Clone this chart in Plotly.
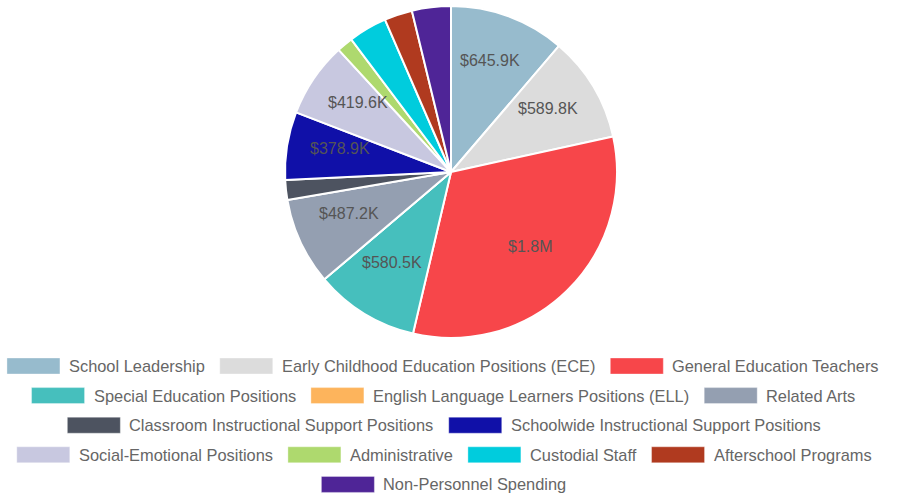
import math
import plotly.graph_objects as go

# ---------------- data ----------------
categories = [
    "School Leadership",
    "Early Childhood Education Positions (ECE)",
    "General Education Teachers",
    "Special Education Positions",
    "English Language Learners Positions (ELL)",
    "Related Arts",
    "Classroom Instructional Support Positions",
    "Schoolwide Instructional Support Positions",
    "Social-Emotional Positions",
    "Administrative",
    "Custodial Staff",
    "Afterschool Programs",
    "Non-Personnel Spending",
]
values = [645900, 589800, 1840000, 580500, 0, 487200, 110000, 378900,
          419600, 90000, 215000, 156000, 217000]
colors = ["#97BBCD", "#DCDCDC", "#F7464A", "#46BFBD", "#FDB45C", "#949FB1",
          "#4D5360", "#1010A8", "#C8C8E0", "#AED96E", "#00CCDD", "#B03A1F",
          "#4F2597"]

W, H = 897, 497
FONT = "Liberation Sans, Arial, sans-serif"


def px(x):
    return x / W


def py(y):
    return 1 - y / H


def fmt(v):
    if v >= 1e6:
        return f"${v/1e6:.1f}M"
    return f"${v/1e3:.1f}K"


total = sum(values)

# pie geometry (pixels)
PX0, PX1, PY0, PY1 = 285, 617, 6, 338
PCX, PCY = (PX0 + PX1) / 2, (PY0 + PY1) / 2
PR = (PX1 - PX0) / 2
LABEL_DY = -6

fig = go.Figure()
fig.add_trace(go.Pie(
    labels=categories,
    values=values,
    textinfo="none",
    marker=dict(colors=colors, line=dict(color="white", width=2)),
    sort=False,
    direction="clockwise",
    rotation=0,
    showlegend=False,
    hoverinfo="label+value",
    domain=dict(x=[px(PX0), px(PX1)], y=[py(PY1), py(PY0)]),
))

# value labels placed along each slice's bisector (derived from the values)
cum = 0.0
for v in values:
    frac = v / total
    mid = (cum + frac / 2) * 2 * math.pi
    cum += frac
    if frac < 0.05:
        continue
    lx = PCX + 0.68 * PR * math.sin(mid)
    ly = PCY - 0.68 * PR * math.cos(mid) + LABEL_DY
    fig.add_annotation(xref="paper", yref="paper", x=px(lx), y=py(ly),
                       xanchor="center", yanchor="middle", showarrow=False,
                       text=fmt(v), borderpad=0, borderwidth=0,
                       font=dict(family=FONT, size=16, color="#555555"))

# ---------------- custom centered legend ----------------
AW = {' ': 278, '!': 278, '"': 355, '$': 556, '%': 889, '&': 667, "'": 191,
      '(': 333, ')': 333, '*': 389, '+': 584, ',': 278, '-': 333, '.': 278,
      '/': 278, ':': 278, ';': 278, '?': 556,
      'A': 667, 'B': 667, 'C': 722, 'D': 722, 'E': 667, 'F': 611, 'G': 778,
      'H': 722, 'I': 278, 'J': 500, 'K': 667, 'L': 556, 'M': 833, 'N': 722,
      'O': 778, 'P': 667, 'Q': 778, 'R': 722, 'S': 667, 'T': 611, 'U': 722,
      'V': 667, 'W': 944, 'X': 667, 'Y': 667, 'Z': 611,
      'a': 556, 'b': 556, 'c': 500, 'd': 556, 'e': 556, 'f': 278, 'g': 556,
      'h': 556, 'i': 222, 'j': 222, 'k': 500, 'l': 222, 'm': 833, 'n': 556,
      'o': 556, 'p': 556, 'q': 556, 'r': 333, 's': 500, 't': 278, 'u': 556,
      'v': 500, 'w': 722, 'x': 500, 'y': 500, 'z': 500}
for d in "0123456789":
    AW[d] = 556

LFS = 16.4
BOXW, BOXH = 53, 16
GAP_TXT, GAP_ITEM = 9, 15
MAXW = 885
CX = 444
ROW0, ROWSTEP = 366, 29.6


def tw(s):
    return sum(AW.get(c, 556) for c in s) / 1000 * LFS


items = [(c, col, BOXW + GAP_TXT + tw(c)) for c, col in zip(categories, colors)]
rows, cur, curw = [], [], 0
for it in items:
    add = it[2] + (GAP_ITEM if cur else 0)
    if cur and curw + add > MAXW:
        rows.append((cur, curw))
        cur, curw = [it], it[2]
    else:
        cur.append(it)
        curw += add
rows.append((cur, curw))

for r, (row, rw) in enumerate(rows):
    yc = ROW0 + r * ROWSTEP
    x = CX - rw / 2
    for name, col, iw in row:
        fig.add_shape(type="rect", xref="paper", yref="paper",
                      x0=px(x), x1=px(x + BOXW),
                      y0=py(yc - BOXH / 2), y1=py(yc + BOXH / 2),
                      fillcolor=col, line=dict(color="rgba(255,255,255,0.35)", width=1))
        fig.add_annotation(xref="paper", yref="paper",
                           x=px(x + BOXW + GAP_TXT), y=py(yc),
                           xanchor="left", yanchor="middle", showarrow=False,
                           text=name, borderpad=0, borderwidth=0,
                           font=dict(family=FONT, size=LFS, color="#666666"))
        x += iw + GAP_ITEM

fig.update_layout(
    width=W, height=H,
    margin=dict(l=0, r=0, t=0, b=0),
    paper_bgcolor="white", plot_bgcolor="white",
    font=dict(family=FONT),
)

fig.write_html("out.html", config={"displayModeBar": False},
               post_script="document.body.style.margin='0';document.body.style.padding='0';")
